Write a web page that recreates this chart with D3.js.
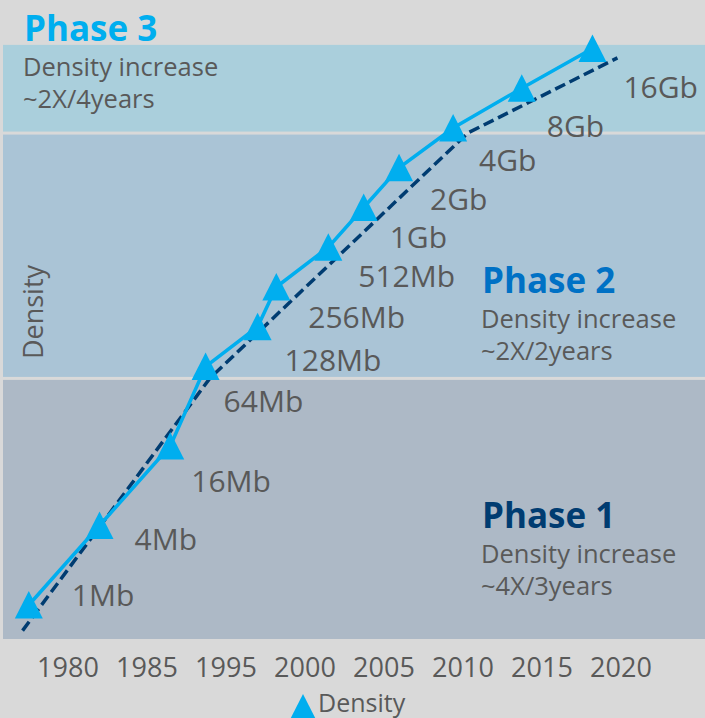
<!DOCTYPE html>
<html>
<head>
<meta charset="utf-8">
<script src="https://cdn.jsdelivr.net/npm/d3@7/dist/d3.min.js"></script>
<style>
  html, body { margin: 0; padding: 0; background: #d9d9d9; }
  svg { display: block; font-family: "Open Sans", "Noto Sans", sans-serif; }
</style>
</head>
<body>
<svg id="chart" width="705" height="718"></svg>
<script>
// DRAM density milestones (density in Mb)
const chipLabels = ["1Mb", "4Mb", "16Mb", "64Mb", "128Mb", "256Mb", "512Mb", "1Gb", "2Gb", "4Gb", "8Gb", "16Gb"];
const chipYears  = [1986.0, 1989.4, 1992.8, 1994.5, 1997.0, 1997.9, 2000.4, 2002.1, 2003.8, 2006.4, 2009.7, 2013.1];
const chipDensity = [1, 4, 16, 64, 128, 256, 512, 1024, 2048, 4096, 8192, 16384];

// Piecewise trend line (year, density in Mb)
const trendYears = [1985.7, 1994.7, 2007.1, 2014.3];
const trendDensity = [0.64, 52, 3750, 13900];

// Scaling phases, bottom to top, bounded by density (Mb)
const phaseNames = ["Phase 1", "Phase 2", "Phase 3"];
const phaseRates = ["~4X/3years", "~2X/2years", "~2X/4years"];
const phaseLow  = [0.553, 52, 3750];
const phaseHigh = [52, 3750, 17450];

// Axis tick labels
const tickLabels = ["1980", "1985", "1995", "2000", "2005", "2010", "2015", "2020"];

const svg = d3.select("#chart");
const W = 705, H = 718;
const grey = "#595959";
const cyan = "#00aeef";
const navy = "#003c71";
const phaseFill = ["#adb9c6", "#aac4d6", "#aacfdc"];
const phaseTitleColor = ["#003c71", "#0071c5", "#00aeef"];

const x = d3.scaleLinear().domain([1985, 2015]).range([8, 632]);
const y = d3.scaleLog().base(2).domain([1, 16384]).range([605, 48.5]);
const xTicks = d3.scalePoint().domain(tickLabels).range([68, 621]);

svg.append("rect").attr("width", W).attr("height", H).attr("fill", "#d9d9d9");

// Phase bands, separated by a thin gap
const bandGap = 1.5;
svg.append("g").selectAll("rect")
  .data(phaseNames)
  .join("rect")
  .attr("x", 3)
  .attr("width", W - 3)
  .attr("y", (d, i) => y(phaseHigh[i]) + (i < 2 ? bandGap : 0))
  .attr("height", (d, i) => (y(phaseLow[i]) - (i > 0 ? bandGap : 0)) - (y(phaseHigh[i]) + (i < 2 ? bandGap : 0)))
  .attr("fill", (d, i) => phaseFill[i]);

// Phase annotations
const phaseText = [
  { tx: 482, ty: 528 },
  { tx: 482, ty: 293 },
  { tx: 24,  ty: 41 }
];
phaseNames.forEach((name, i) => {
  const p = phaseText[i];
  svg.append("text")
    .attr("x", p.tx).attr("y", p.ty)
    .attr("font-size", 35).attr("font-weight", 700)
    .attr("fill", phaseTitleColor[i])
    .text(name);
  svg.append("text")
    .attr("x", p.tx - 1).attr("y", p.ty + 35)
    .attr("font-size", 25.5).attr("fill", grey)
    .text("Density increase");
  svg.append("text")
    .attr("x", p.tx - 1).attr("y", p.ty + 67)
    .attr("font-size", 25.5).attr("fill", grey)
    .text(phaseRates[i]);
});

// Y axis title
svg.append("text")
  .attr("transform", "translate(43,312) rotate(-90)")
  .attr("text-anchor", "middle")
  .attr("font-size", 27)
  .attr("fill", grey)
  .text("Density");

// X axis tick labels
svg.append("g").selectAll("text")
  .data(tickLabels)
  .join("text")
  .attr("x", d => xTicks(d))
  .attr("y", 677)
  .attr("text-anchor", "middle")
  .attr("font-size", 27)
  .attr("fill", grey)
  .text(d => d);

// Trend line
const trend = trendYears.map((t, i) => [t, trendDensity[i]]);
svg.append("path")
  .datum(trend)
  .attr("fill", "none")
  .attr("stroke", navy)
  .attr("stroke-width", 3.5)
  .attr("stroke-dasharray", "11,5")
  .attr("d", d3.line().x(d => x(d[0])).y(d => y(d[1])));

// Density series
const pts = chipYears.map((t, i) => ({ year: t, density: chipDensity[i], label: chipLabels[i] }));
svg.append("path")
  .datum(pts)
  .attr("fill", "none")
  .attr("stroke", cyan)
  .attr("stroke-width", 3.5)
  .attr("d", d3.line().x(d => x(d.year)).y(d => y(d.density)));

const tri = "M0,-14L14,13.5L-14,13.5Z";
svg.append("g").selectAll("path")
  .data(pts)
  .join("path")
  .attr("transform", d => `translate(${x(d.year)},${y(d.density)})`)
  .attr("d", tri)
  .attr("fill", cyan);

// Value labels, nudged below-right of each marker
const labelNudge = [
  [43, 1], [35, 24], [21, 46], [18, 45], [27, 44], [32, 41],
  [30, 40], [26, 40], [31, 42], [26, 43], [25, 49], [31, 49]
];
svg.append("g").selectAll("text")
  .data(pts)
  .join("text")
  .attr("x", (d, i) => x(d.year) + labelNudge[i][0])
  .attr("y", (d, i) => y(d.density) + labelNudge[i][1])
  .attr("font-size", 30)
  .attr("fill", grey)
  .text(d => d.label);

// Legend
const legend = svg.append("g").attr("transform", "translate(303,708)");
legend.append("path").attr("d", tri).attr("fill", cyan);
legend.append("text")
  .attr("x", 15).attr("y", 4)
  .attr("font-size", 25)
  .attr("fill", grey)
  .text("Density");
</script>
</body>
</html>
